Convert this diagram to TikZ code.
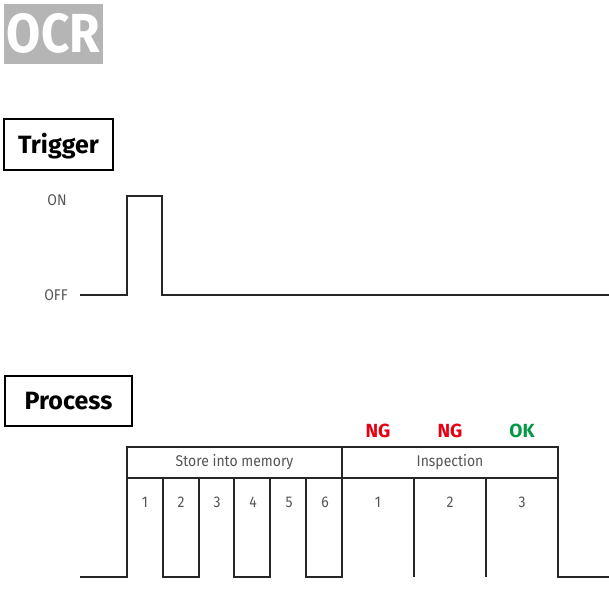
\documentclass[tikz,border=0pt]{standalone}
\usepackage{fontspec}
\setmainfont[FakeStretch=0.9]{Fira Sans}
\newfontfamily\titlefont{Fira Sans}
\definecolor{ngred}{HTML}{E60012}
\definecolor{okgreen}{HTML}{009944}
\definecolor{ocrgray}{HTML}{B5B5B5}
\definecolor{labelgray}{HTML}{555555}
\begin{document}
\begin{tikzpicture}[x=1pt,y=-1pt,
    title/.style={draw,line width=1.2pt,inner sep=0pt,text height=17pt,text depth=0pt,font=\titlefont\fontsize{25}{25}\selectfont\bfseries},
    lbl/.style={text=labelgray,inner sep=0pt,font=\fontsize{15.5}{15.5}\selectfont},
    head/.style={text=labelgray,inner sep=0pt,font=\fontsize{15.5}{15.5}\selectfont},
    verdict/.style={inner sep=0pt,font=\titlefont\fontsize{19}{19}\selectfont\bfseries},
    wave/.style={line width=1.3pt,black!85}
  ]
  \useasboundingbox (0,0) rectangle (609,599);

  % title
  \node[fill=ocrgray,text=white,minimum width=99pt,minimum height=60pt,inner sep=0pt,
        text height=37pt,text depth=0pt,font=\fontsize{55}{55}\selectfont\bfseries] (ocr) at (53.5,34) {OCR};

  % trigger
  \node[title,minimum width=109pt,minimum height=51pt] (trigger) at (58.5,144.5) {Trigger};
  \node[lbl] (on) at (57,200) {ON};
  \node[lbl] (off) at (56,295) {OFF};
  \draw[wave] (80,295) -- (127,295) -- (127,196) -- (162,196) -- (162,295) -- (609,295);

  % process
  \node[title,minimum width=127pt,minimum height=50pt] (process) at (68.5,401) {Process};
  \draw[wave] (80,577) -- (127,577) -- (127,447) -- (558,447) -- (558,577) -- (609,577);
  \draw[wave] (127,478) -- (558,478);
  \draw[wave] (342,447) -- (342,577);
  \foreach \x in {163,234,306}
    \draw[wave] (\x,478) -- (\x,577) -- (\x+36,577) -- (\x+36,478);
  \foreach \x in {414,486}
    \draw[wave] (\x,478) -- (\x,577);

  \node[head] (store) at (234.5,462) {Store into memory};
  \node[head] (insp) at (450,462) {Inspection};
  \foreach \i in {1,...,6}
    \node[lbl] (s\i) at ({127+36*(\i-0.5)},502) {\i};
  \foreach \i/\r/\c in {1/NG/ngred,2/NG/ngred,3/OK/okgreen} {
    \node[lbl] (c\i) at ({342+72*(\i-0.5)},502) {\i};
    \node[verdict,text=\c] (v\i) at ({342+72*(\i-0.5)},431) {\r};
  }
\end{tikzpicture}
\end{document}
